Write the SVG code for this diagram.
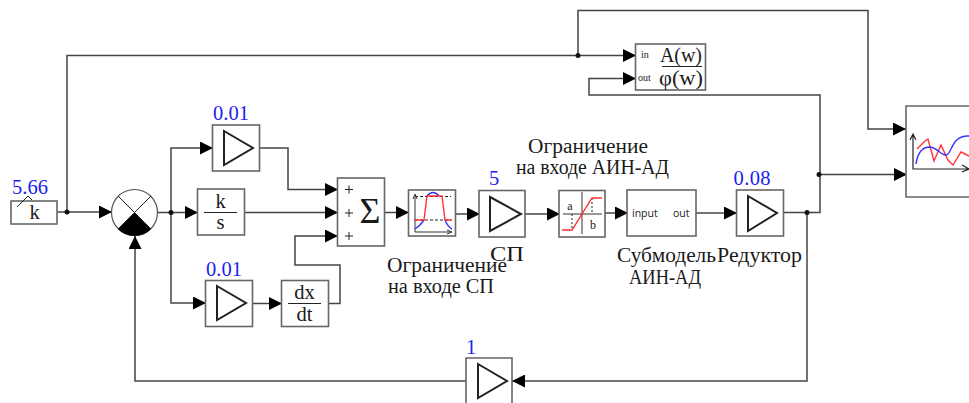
<svg xmlns="http://www.w3.org/2000/svg" width="969" height="403" viewBox="0 0 969 403">
<style>
text{font-family:"Liberation Serif","Noto Sans CJK SC",serif;fill:#1a1a1a}
.box{fill:#fff;stroke:#666;stroke-width:1.6}
.tri{fill:#fff;stroke:#222;stroke-width:2}
.w{fill:none;stroke:#444;stroke-width:1.5}
.val{fill:#2222ee;font-size:20.500px}
.lab{font-size:20.500px}
.mid{text-anchor:middle}
.fr{stroke:#222;stroke-width:1;fill:none}
.small{font-family:"Open Sans",sans-serif;font-size:10.500px}
.d{fill:#111}
.ar{fill:none;stroke:#333;stroke-width:1}
.red{fill:none;stroke:#f33;stroke-width:1.4}
.blue{fill:none;stroke:#33f;stroke-width:1.4}
</style>
<defs>
<marker id="a" markerUnits="userSpaceOnUse" markerWidth="13" markerHeight="13" refX="13" refY="6.500" orient="auto"><path d="M0 0L13 6.500L0 13Z" fill="#000"/></marker>
</defs>
<g id="connectors" class="w">
<path class="w" d="M57 212H112" marker-end="url(#a)"/>
<path class="w" d="M67 212V55.500H636" marker-end="url(#a)"/>
<path class="w" d="M578 55V10.500H868V129H906" marker-end="url(#a)"/>
<path class="w" d="M157 212.500H198" marker-end="url(#a)"/>
<path class="w" d="M171 212V148H213" marker-end="url(#a)"/>
<path class="w" d="M171 212V303H206" marker-end="url(#a)"/>
<path class="w" d="M259 148H288V189.500H338" marker-end="url(#a)"/>
<path class="w" d="M244 212.500H338" marker-end="url(#a)"/>
<path class="w" d="M252 303.500H282" marker-end="url(#a)"/>
<path class="w" d="M328 303.500H340V265H295V236H338" marker-end="url(#a)"/>
<path class="w" d="M384 212.500H409" marker-end="url(#a)"/>
<path class="w" d="M455 214H480" marker-end="url(#a)"/>
<path class="w" d="M525 214H560" marker-end="url(#a)"/>
<path class="w" d="M605 213H628" marker-end="url(#a)"/>
<path class="w" d="M696 213H737" marker-end="url(#a)"/>
<path class="w" d="M783 212.500H820V95H589V78.500H636" marker-end="url(#a)"/>
<path class="w" d="M820 174.500H907" marker-end="url(#a)"/>
<path class="w" d="M807 212V381H512" marker-end="url(#a)"/>
<path class="w" d="M466 381H135V236" marker-end="url(#a)"/>
<g class="d" stroke="none">
<circle cx="67" cy="212" r="2.500"/><circle cx="171" cy="212.500" r="2.500"/><circle cx="578" cy="55.500" r="2.500"/><circle cx="819" cy="174.500" r="2.500"/><circle cx="807" cy="212.500" r="2.500"/>
</g>
</g>
<g id="const">
<rect class="box" x="11" y="201" width="46" height="23"/>
<text class="lab mid" x="34.500" y="219">k</text>
<text class="val" x="12" y="193.500" textLength="36">5.66</text>
<path class="fr" d="M17 207L28 196L32 200"/>
</g>
<g id="comparator">
<circle cx="134.500" cy="212.500" r="23" fill="#fff" stroke="#555" stroke-width="1.200"/>
<path d="M134.500 212.500L118 229A23 23 0 0 0 151 229Z" fill="#000"/>
<path class="fr" d="M118 196L151 229M151 196L118 229"/>
</g>
<g id="gain1">
<rect class="box" x="212.500" y="125" width="47" height="46"/>
<path class="tri" d="M224 131L253 148L224 165Z"/>
<text class="val mid" x="231" y="120" textLength="36">0.01</text>
</g>
<g id="integ">
<rect class="box" x="197.500" y="189" width="47" height="46"/>
<path class="fr" d="M204 212.500H237"/>
<text class="lab mid" x="220.500" y="208">k</text>
<text class="lab mid" x="220.500" y="229">s</text>
</g>
<g id="gain2">
<rect class="box" x="205.500" y="280.500" width="47" height="46"/>
<path class="tri" d="M217 286L246 303L217 320Z"/>
<text class="val mid" x="224" y="276" textLength="36">0.01</text>
</g>
<g id="deriv">
<rect class="box" x="281.500" y="280.500" width="47" height="46"/>
<path class="fr" d="M288 303.500H321"/>
<text class="lab mid" x="304.500" y="299">dx</text>
<text class="lab mid" x="304.500" y="321">dt</text>
</g>
<g id="sum">
<rect class="box" x="337.500" y="178" width="47" height="68"/>
<path class="fr" d="M345 189.500h8M349 185.500v8M345 213h8M349 209v8M345 236h8M349 232v8"/>
<text x="370" y="223" class="mid" font-size="36">Σ</text>
</g>
<g id="limiter">
<rect class="box" x="408.500" y="190" width="47" height="46"/>
<path class="ar" d="M415 197V232H451M413 199L415 194L417 199M447 230L452 232L447 234"/>
<path d="M415 196.500H451M415 220H451" fill="none" stroke="#222" stroke-width="1" stroke-dasharray="3 2"/>
<path class="blue" d="M415 229Q420 226 424 220M427 196Q433 189 439 196M445 220Q448 227 452 229"/>
<path class="red" d="M414 220H424L427 196H442L445 220H452"/>
</g>
<g id="gain5">
<rect class="box" x="479" y="190.500" width="46" height="46.500"/>
<path class="tri" d="M490 197L521 214L490 231Z"/>
<text class="val mid" x="494" y="185">5</text>
</g>
<g id="sat">
<rect class="box" x="559" y="190.500" width="46" height="46.500"/>
<path class="ar" d="M563 214H602M582 192V234"/>
<path d="M572 214V229M592 198V214" fill="none" stroke="#222" stroke-width="1" stroke-dasharray="2 2"/>
<path class="red" d="M562 230H572L592 198H602"/>
<text x="570" y="210" font-size="12" class="mid">a</text>
<text x="593" y="229" font-size="12" class="mid">b</text>
</g>
<g id="submodel">
<rect class="box" x="627" y="190" width="69" height="46"/>
<text class="small" x="632" y="217">input</text>
<text class="small" x="673" y="217">out</text>
</g>
<g id="gain008">
<rect class="box" x="736.500" y="190" width="47" height="46"/>
<path class="tri" d="M748 196L777 213L748 231Z"/>
<text class="val mid" x="752" y="185" textLength="37">0.08</text>
</g>
<g id="gain-fb">
<path class="box" d="M466 403V358H512V403"/>
<path class="tri" d="M478 364L507 381L478 398Z"/>
<text class="val mid" x="471" y="354">1</text>
</g>
<g id="freq">
<rect class="box" x="635.500" y="44" width="70" height="46"/>
<text x="641" y="58" font-size="10">in</text>
<text x="638" y="81" font-size="10">out</text>
<text x="681" y="62" class="mid" font-size="20" textLength="42" lengthAdjust="spacingAndGlyphs">A(w)</text>
<path class="fr" d="M662 66.500H702"/>
<text x="681" y="85" class="mid" font-size="20" textLength="44" lengthAdjust="spacingAndGlyphs">φ(w)</text>
</g>
<g id="scope">
<path class="box" d="M969 106H906V197H969"/>
<path fill="none" stroke="#222" stroke-width="1.200" d="M913 134V169H969M910 140L913 134L916 140M962 165L969 169L962 172"/>
<path class="red" d="M917 149L925 141L928 139L934 161L941 145L948 160L953 165L961 152L969 156"/>
<path class="blue" d="M916 164C918 150 925 147 930 147C938 148 940 155 946 155C952 155 951 135 969 136"/>
</g>
<g id="labels">
<text class="lab" x="387" y="272" textLength="120" lengthAdjust="spacingAndGlyphs">Ограничение</text>
<text class="lab" x="388" y="293" textLength="106" lengthAdjust="spacingAndGlyphs">на входе СП</text>
<text class="lab" x="528" y="153" textLength="120" lengthAdjust="spacingAndGlyphs">Ограничение</text>
<text class="lab" x="516" y="174" textLength="153" lengthAdjust="spacingAndGlyphs">на входе АИН-АД</text>
<text class="lab" x="490" y="261" textLength="34" lengthAdjust="spacingAndGlyphs">СП</text>
<text class="lab" x="617" y="262" textLength="99" lengthAdjust="spacingAndGlyphs">Субмодель</text>
<text class="lab" x="629" y="284" textLength="72" lengthAdjust="spacingAndGlyphs">АИН-АД</text>
<text class="lab" x="717" y="262" textLength="85" lengthAdjust="spacingAndGlyphs">Редуктор</text>
</g>
</svg>
